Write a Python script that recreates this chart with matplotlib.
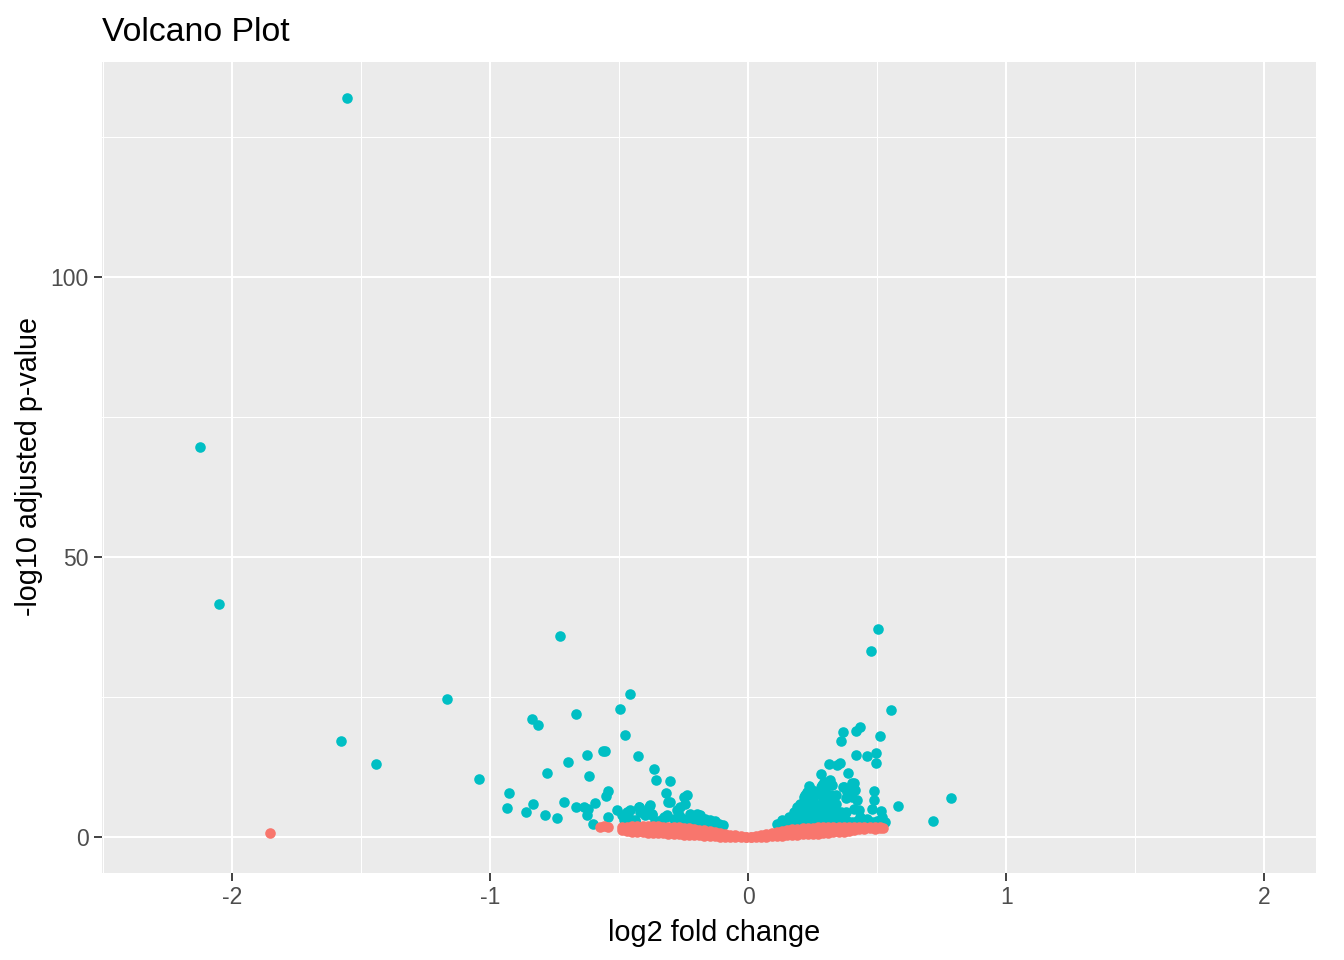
import numpy as np
import matplotlib
matplotlib.use('Agg')
import matplotlib.pyplot as plt

plt.rcParams['font.family'] = ['Liberation Sans', 'DejaVu Sans']

# genes passing the cutoff (teal)
sig_lfc = [-1.554, -2.124, -2.050, -1.578, -1.442, -1.167, -1.043, -0.729,
           0.503, 0.477, 0.554, 0.786, 0.716, 0.580,
           -0.457, -0.496, -0.668, -0.838, -0.815, -0.479, -0.565, -0.555, -0.625, -0.428,
           -0.699, -0.367, -0.779, -0.618, -0.358, -0.304, -0.926, -0.544, -0.552, -0.320,
           -0.313, -0.251, -0.238, -0.934, -0.835, -0.862, -0.787, -0.742, -0.713, -0.668,
           -0.638, -0.625, -0.621, -0.594, -0.602, -0.544, -0.509, -0.470, -0.483, -0.424,
           -0.383, -0.406, -0.373, -0.441, -0.320, -0.276, -0.264, -0.251, -0.225, -0.199,
           -0.193, -0.147, -0.128,
           -0.490, -0.470, -0.457, -0.477, -0.425, -0.419, -0.386, -0.373, -0.399, -0.328,
           -0.315, -0.302, -0.264, -0.244, -0.270, -0.257, -0.238, -0.186, -0.167, -0.154,
           -0.115, -0.460, -0.440, -0.360, -0.340, -0.290, -0.210, -0.180, -0.140, -0.100,
           0.367, 0.359, 0.417, 0.434, 0.509, 0.417, 0.460, 0.495, 0.495, 0.311,
           0.344, 0.357, 0.386, 0.283, 0.318, 0.324, 0.292, 0.285, 0.234, 0.402,
           0.415, 0.395, 0.369, 0.488, 0.486, 0.479, 0.514, 0.518, 0.531, 0.221,
           0.189, 0.176, 0.156, 0.131, 0.111, 0.402, 0.421, 0.408, 0.428, 0.434,
           0.460, 0.214, 0.227, 0.247, 0.266, 0.382, 0.408, 0.366,
           0.20, 0.20, 0.20, 0.22, 0.22, 0.22, 0.22, 0.24, 0.24, 0.24, 0.24,
           0.26, 0.26, 0.26, 0.26, 0.28, 0.28, 0.28, 0.28, 0.28,
           0.30, 0.30, 0.30, 0.30, 0.30, 0.32, 0.32, 0.32, 0.32,
           0.34, 0.34, 0.34, 0.34, 0.36, 0.36, 0.38, 0.38, 0.38,
           0.13, 0.15, 0.17, 0.19, 0.40, 0.42, 0.44, 0.46, 0.48, 0.50]
sig_p = [132.0, 69.6, 41.6, 17.1, 13.0, 24.6, 10.4, 35.9,
         37.1, 33.2, 22.7, 7.0, 2.9, 5.5,
         25.5, 22.9, 22.0, 21.1, 20.0, 18.2, 15.4, 15.4, 14.7, 14.5,
         13.5, 12.2, 11.5, 11.0, 10.2, 10.0, 7.9, 8.3, 7.4, 7.9,
         6.3, 7.2, 7.5, 5.2, 5.9, 4.5, 4.0, 3.4, 6.3, 5.4,
         5.4, 4.0, 5.0, 6.1, 2.4, 3.6, 4.9, 4.5, 3.0, 5.4,
         5.7, 4.3, 3.9, 3.1, 3.6, 4.8, 3.6, 2.7, 4.2, 4.2,
         3.6, 3.0, 2.8,
         3.9, 4.2, 4.8, 3.0, 5.4, 4.5, 5.4, 4.2, 3.9, 3.6,
         3.9, 6.3, 5.4, 6.0, 3.9, 3.0, 3.3, 3.9, 3.3, 2.7,
         2.4, 3.2, 2.8, 2.9, 3.1, 3.2, 2.9, 2.6, 2.5, 2.2,
         18.8, 17.1, 19.0, 19.6, 18.1, 14.7, 14.5, 15.1, 13.3, 13.1,
         12.8, 13.3, 11.5, 11.2, 10.2, 9.3, 9.9, 9.3, 9.1, 9.7,
         8.4, 8.1, 9.0, 8.3, 6.6, 5.1, 4.6, 3.6, 2.7, 7.2,
         5.4, 4.5, 3.6, 3.0, 2.3, 7.2, 6.6, 5.1, 4.8, 3.6,
         3.3, 7.2, 8.1, 8.4, 8.1, 8.1, 9.6, 9.0,
         3.0, 4.5, 6.0, 3.0, 4.5, 6.0, 7.5, 3.0, 4.5, 6.0, 7.5,
         3.0, 4.5, 6.0, 7.5, 3.0, 4.5, 6.0, 7.5, 9.0,
         3.0, 4.5, 6.0, 7.5, 9.0, 3.0, 4.5, 6.0, 7.5,
         3.0, 4.5, 6.0, 7.5, 3.0, 4.5, 3.0, 4.5, 7.0,
         2.7, 2.8, 2.7, 2.8, 2.7, 2.8, 2.7, 2.8, 2.7, 2.8]

# genes not passing the cutoff (red)
ns_lfc = [-1.853, -0.575, -0.560, -0.545,
          -0.49, -0.47, -0.45, -0.43, -0.41, -0.39, -0.37, -0.35, -0.33, -0.31,
          -0.29, -0.27, -0.25, -0.23, -0.21, -0.19, -0.17, -0.15, -0.13, -0.11,
          -0.09, -0.07, -0.05, -0.03, -0.01, 0.01, 0.03, 0.05, 0.07, 0.09,
          0.11, 0.13, 0.15, 0.17, 0.19, 0.21, 0.23, 0.25, 0.27, 0.29,
          0.31, 0.33, 0.35, 0.37, 0.39, 0.41, 0.43, 0.45, 0.47, 0.49, 0.51,
          -0.49, -0.47, -0.45, -0.43, -0.41, -0.39, -0.37, -0.35, -0.33, -0.31,
          -0.29, -0.27, -0.25, -0.23, -0.21, -0.19, -0.17, -0.15, -0.13, -0.11,
          -0.09, -0.07, -0.05, -0.03, -0.01, 0.01, 0.03, 0.05, 0.07, 0.09,
          0.11, 0.13, 0.15, 0.17, 0.19, 0.21, 0.23, 0.25, 0.27, 0.29,
          0.31, 0.33, 0.35, 0.37, 0.39, 0.41, 0.43, 0.45, 0.47, 0.49, 0.51, 0.52]
ns_p = [0.8, 1.9, 2.0, 1.8,
        1.8, 1.9, 2.0, 2.0, 2.0, 2.0, 2.0, 2.0, 1.9, 1.9,
        1.8, 1.8, 1.7, 1.6, 1.5, 1.3, 1.2, 1.1, 1.0, 0.8,
        0.6, 0.45, 0.3, 0.15, 0.05, 0.05, 0.2, 0.35, 0.55, 0.7,
        0.9, 1.1, 1.3, 1.4, 1.5, 1.6, 1.7, 1.7, 1.8, 1.8,
        1.8, 1.8, 1.8, 1.8, 1.8, 1.8, 1.8, 1.9, 1.9, 1.8, 1.9,
        1.2, 1.1, 1.0, 0.9, 0.85, 0.8, 0.8, 0.75, 0.7, 0.6,
        0.5, 0.5, 0.45, 0.4, 0.35, 0.3, 0.25, 0.2, 0.15, 0.1,
        0.05, 0.05, 0.02, 0.01, 0.0, 0.0, 0.02, 0.05, 0.1, 0.15,
        0.2, 0.25, 0.3, 0.35, 0.4, 0.5, 0.55, 0.6, 0.65, 0.7,
        0.8, 0.85, 0.9, 1.0, 1.1, 1.3, 1.5, 1.5, 1.6, 1.5, 1.6, 1.7]

x_ticks = [-2, -1, 0, 1, 2]
y_ticks = [0, 50, 100]

fig = plt.figure(figsize=(13.44, 9.6), dpi=100)
ax = fig.add_axes([102 / 1344, 1 - 873 / 960, (1316 - 102) / 1344, (873 - 62) / 960])
ax.set_facecolor('#EBEBEB')
for s in ax.spines.values():
    s.set_visible(False)

ax.scatter(sig_lfc, sig_p, s=58, color='#00BFC4', linewidths=0, zorder=3)
ax.scatter(ns_lfc, ns_p, s=58, color='#F8766D', linewidths=0, zorder=4)

ax.set_xlim(-2.505, 2.2)
ax.set_ylim(-6.4, 138.4)
ax.set_xticks(x_ticks)
ax.set_xticklabels([str(t) for t in x_ticks])
ax.set_yticks(y_ticks)
ax.set_xticks([-2.5, -1.5, -0.5, 0.5, 1.5], minor=True)
ax.set_yticks([25, 75, 125], minor=True)
ax.grid(which='major', color='white', linewidth=1.5, zorder=0)
ax.grid(which='minor', color='white', linewidth=0.75, zorder=0)
ax.set_axisbelow(True)
ax.tick_params(which='major', length=5.5, width=1.3, color='#333333',
               labelcolor='#4D4D4D', labelsize=16.5, pad=4)
ax.tick_params(which='minor', length=0)

fig.text(102 / 1344, 1 - 41 / 960, 'Volcano Plot', fontsize=24.3, ha='left', va='baseline')
fig.text(714 / 1344, 1 - 941 / 960, 'log2 fold change', fontsize=20.8, ha='center', va='baseline')
fig.text(29 / 1344, 1 - 467 / 960, '-log10 adjusted p-value', fontsize=20.7,
         ha='center', va='center', rotation=90)

fig.savefig('out.png', dpi=100)
